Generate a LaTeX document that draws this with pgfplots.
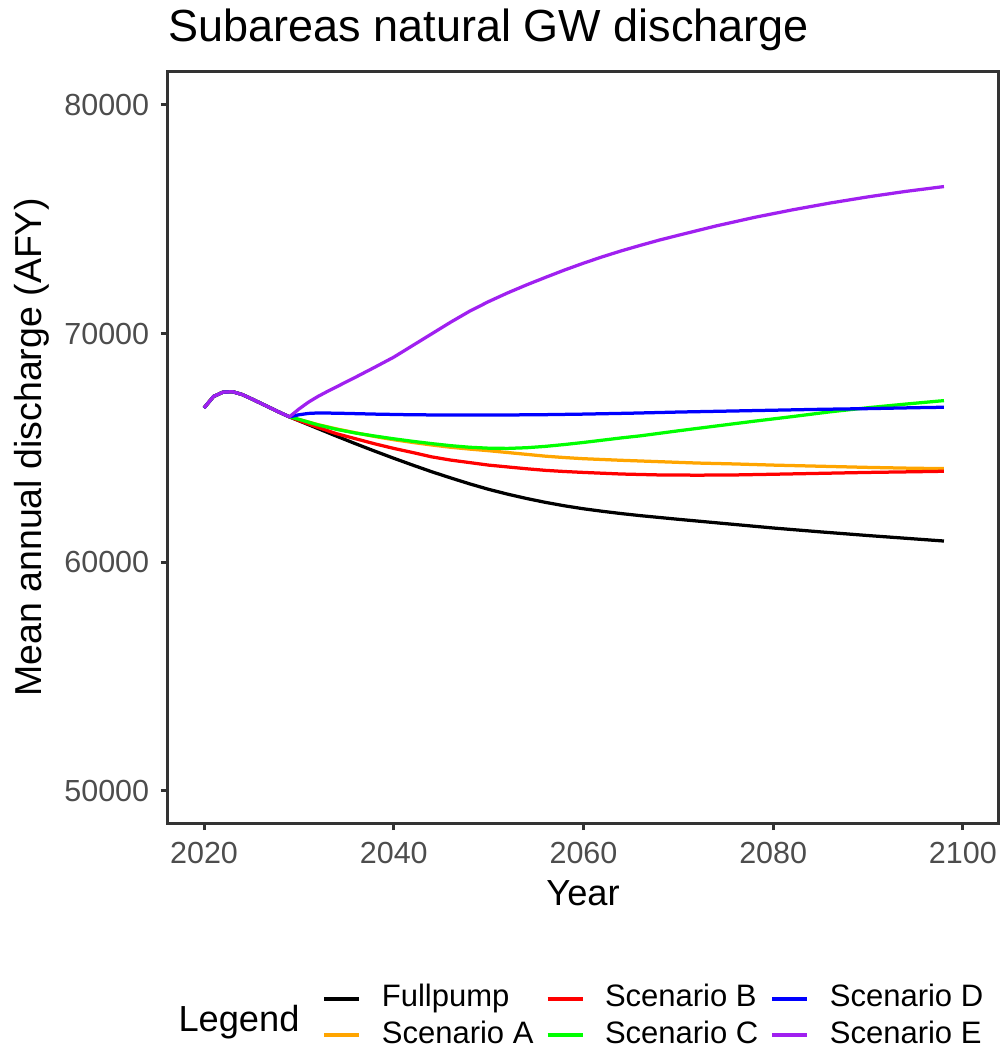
\documentclass[border=0pt]{standalone}
\usepackage{pgfplots}
\pgfplotsset{compat=1.18}
\usepackage{fontspec}
\setmainfont{Liberation Sans}
\definecolor{frame}{HTML}{333333}
\definecolor{ticktxt}{HTML}{4D4D4D}
\definecolor{cOrange}{HTML}{FFA500}
\definecolor{cRed}{HTML}{FF0000}
\definecolor{cGreen}{HTML}{00FF00}
\definecolor{cBlue}{HTML}{0000FF}
\definecolor{cPurple}{HTML}{A020F0}
\begin{document}
\begin{tikzpicture}
\begin{axis}[
  name=ax,
  scale only axis,
  width=332pt, height=300.4pt,
  xmin=2016.2, xmax=2103.7,
  ymin=48600, ymax=81440,
  xtick={2020,2040,2060,2080,2100},
  ytick={50000,60000,70000,80000},
  scaled ticks=false,
  /pgf/number format/.cd, 1000 sep={}, assume math mode=true, /pgfplots/.cd,
  tick align=outside,
  major tick length=2.8pt,
  tick style={color=frame, line width=1.2pt},
  xtick pos=bottom, ytick pos=left,
  axis line style={color=frame, line width=1.2pt},
  ticklabel style={color=ticktxt, font=\fontsize{12.2pt}{14pt}\selectfont},
  xticklabel style={yshift=-1.2pt},
  yticklabel style={xshift=-1.2pt},
  title={Subareas natural GW discharge},
  title style={at={(axis description cs:0,1)}, anchor=base west, yshift=6pt, inner sep=0pt, font=\fontsize{18pt}{21pt}\selectfont},
  xlabel={Year},
  xlabel style={at={(axis description cs:0.5,-0.1092)}, anchor=base, font=\fontsize{14.5pt}{17pt}\selectfont},
  ylabel={Mean annual discharge (AFY)},
  ylabel style={at={(axis description cs:-0.1639,0.5)}, anchor=center, font=\fontsize{15pt}{17pt}\selectfont},
  clip=false,
  legend columns=2,
  transpose legend,
  legend image code/.code={\draw[#1, line width=1.6pt] (0pt,0pt) -- (14pt,0pt);},
  legend style={at={(axis description cs:0.186,-0.2147)}, anchor=north west, draw=none, fill=none, inner sep=0pt, outer sep=0pt,
    nodes={inner sep=0pt, anchor=west, text height=9pt, text depth=2.5pt, font=\fontsize{12.4pt}{14pt}\selectfont},
    row sep=3pt,
    /tikz/every odd column/.append style={column sep=8.2pt},
    /tikz/every even column/.append style={column sep=4.8pt}},
  every axis plot/.append style={line width=1.3pt, line join=round},
]
% Fullpump
\addplot[black] coordinates {
(2020,66750)(2021,67250)(2022,67440)(2023,67460)(2024,67340)(2025,67150)(2026,66950)(2027,66750)(2028,66550)(2029,66360)
(2030,66190)(2032,65850)(2034,65510)(2036,65180)(2038,64860)(2040,64550)(2042,64250)(2044,63960)(2046,63690)(2048,63430)
(2050,63190)(2052,62980)(2054,62790)(2056,62620)(2058,62470)(2060,62340)(2062,62230)(2064,62130)(2066,62040)(2068,61960)
(2070,61880)(2075,61690)(2080,61500)(2085,61330)(2090,61170)(2095,61020)(2098,60930)};
\addlegendentry{Fullpump}
% Scenario A
\addplot[cOrange] coordinates {
(2020,66750)(2021,67250)(2022,67440)(2023,67460)(2024,67340)(2025,67150)(2026,66950)(2027,66750)(2028,66550)(2029,66360)
(2030,66250)(2032,66020)(2034,65830)(2036,65660)(2038,65500)(2040,65360)(2042,65240)(2044,65130)(2046,65030)(2048,64950)
(2050,64880)(2052,64800)(2054,64720)(2056,64640)(2058,64580)(2060,64530)(2064,64460)(2068,64400)(2072,64340)(2076,64300)
(2080,64250)(2085,64200)(2090,64150)(2095,64110)(2098,64100)};
\addlegendentry{Scenario A}
% Scenario B
\addplot[cRed] coordinates {
(2020,66750)(2021,67250)(2022,67440)(2023,67460)(2024,67340)(2025,67150)(2026,66950)(2027,66750)(2028,66550)(2029,66360)
(2030,66200)(2032,65900)(2034,65620)(2036,65400)(2038,65180)(2040,64980)(2042,64800)(2044,64610)(2046,64470)(2048,64360)
(2050,64250)(2052,64170)(2054,64090)(2056,64020)(2058,63970)(2060,63930)(2064,63860)(2068,63820)(2072,63810)(2076,63820)
(2080,63850)(2085,63890)(2090,63930)(2095,63960)(2098,63980)};
\addlegendentry{Scenario B}
% Scenario C
\addplot[cGreen] coordinates {
(2020,66750)(2021,67250)(2022,67440)(2023,67460)(2024,67340)(2025,67150)(2026,66950)(2027,66750)(2028,66550)(2029,66360)
(2030,66250)(2032,66010)(2034,65810)(2036,65650)(2038,65520)(2040,65400)(2042,65290)(2044,65190)(2046,65100)(2048,65030)
(2050,64990)(2052,64980)(2054,65010)(2056,65070)(2058,65150)(2060,65240)(2062,65340)(2064,65440)(2066,65530)(2068,65640)
(2070,65750)(2074,65960)(2078,66170)(2082,66370)(2086,66580)(2090,66760)(2094,66920)(2098,67070)};
\addlegendentry{Scenario C}
% Scenario D
\addplot[cBlue] coordinates {
(2020,66750)(2021,67250)(2022,67440)(2023,67460)(2024,67340)(2025,67150)(2026,66950)(2027,66750)(2028,66550)(2029,66360)
(2030,66450)(2031,66510)(2032,66530)(2034,66520)(2038,66480)(2042,66450)(2046,66440)(2050,66440)(2055,66450)(2060,66480)
(2065,66520)(2070,66570)(2075,66610)(2080,66650)(2085,66690)(2090,66720)(2095,66760)(2098,66780)};
\addlegendentry{Scenario D}
% Scenario E
\addplot[cPurple] coordinates {
(2020,66750)(2021,67250)(2022,67440)(2023,67460)(2024,67340)(2025,67150)(2026,66950)(2027,66750)(2028,66550)(2029,66360)
(2030,66700)(2031,67000)(2032,67250)(2033,67470)(2034,67680)(2036,68100)(2038,68530)(2040,68970)(2042,69480)(2044,69990)
(2046,70500)(2048,70980)(2050,71400)(2052,71780)(2054,72130)(2056,72460)(2058,72780)(2060,73080)(2062,73360)(2064,73620)
(2066,73860)(2068,74090)(2070,74300)(2074,74710)(2078,75080)(2082,75410)(2086,75710)(2090,75980)(2094,76220)(2098,76430)};
\addlegendentry{Scenario E}
\end{axis}
\node[anchor=base west, inner sep=0pt, font=\fontsize{14.5pt}{17pt}\selectfont] at ([xshift=4pt,yshift=-83.2pt]ax.south west) {Legend};
\pgfresetboundingbox
\path ([shift={(-67.2pt,-90.4pt)}]ax.south west) rectangle ([shift={(0.8pt,28.8pt)}]ax.north east);
\end{tikzpicture}
\end{document}
